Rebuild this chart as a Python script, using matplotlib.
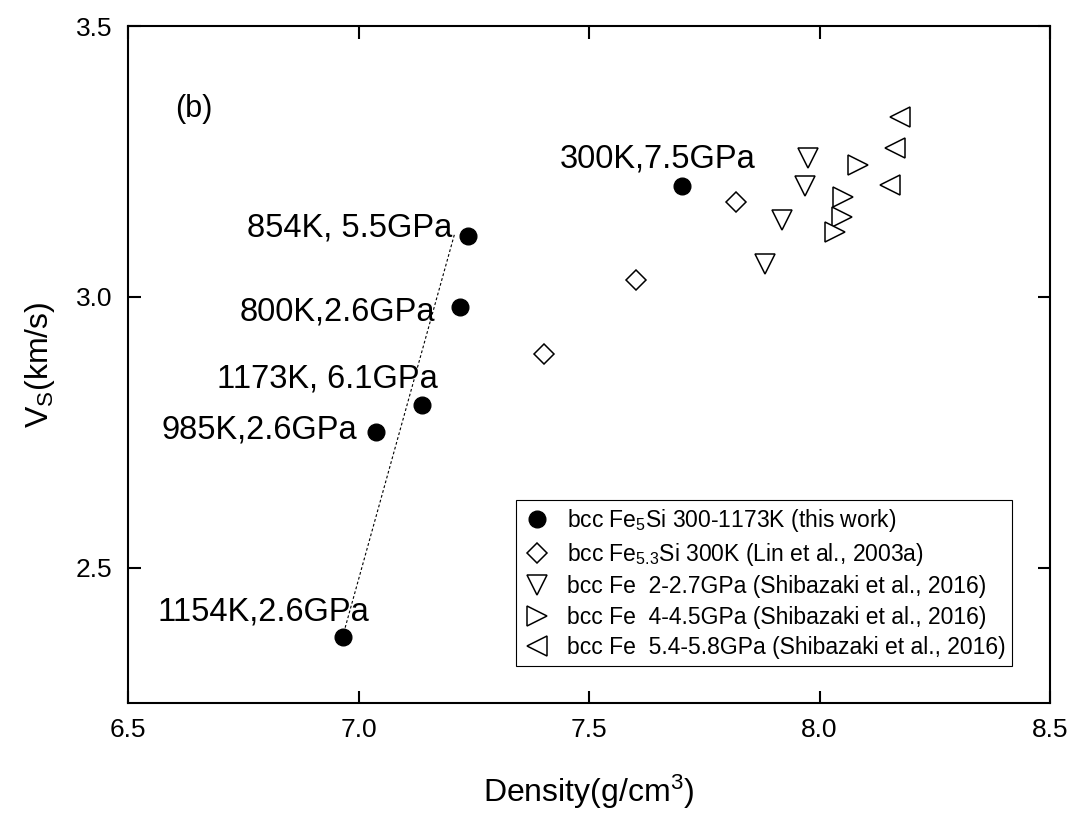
import numpy as np
import matplotlib
matplotlib.use("Agg")
import matplotlib.pyplot as plt

plt.rcParams['font.family'] = ['Liberation Sans', 'DejaVu Sans']
plt.rcParams['mathtext.fontset'] = 'custom'
plt.rcParams['mathtext.rm'] = 'Liberation Sans'
plt.rcParams['mathtext.it'] = 'Liberation Sans:italic'
plt.rcParams['mathtext.default'] = 'regular'

# this work: bcc Fe5Si
fe5si_rho = [7.702, 7.238, 7.220, 7.138, 7.038, 6.966]
fe5si_vs = [3.205, 3.113, 2.982, 2.800, 2.751, 2.371]
fe5si_labels = ['300K,7.5GPa', '854K, 5.5GPa', '800K,2.6GPa',
                '1173K, 6.1GPa', '985K,2.6GPa', '1154K,2.6GPa']

# Lin et al. 2003a
lin_rho = [7.819, 7.602, 7.402]
lin_vs = [3.175, 3.031, 2.895]

# Shibazaki et al. 2016
shib_low_rho = [7.976, 7.969, 7.918, 7.882]
shib_low_vs = [3.256, 3.204, 3.141, 3.060]
shib_mid_rho = [8.083, 8.052, 8.048, 8.034]
shib_mid_vs = [3.243, 3.184, 3.147, 3.119]
shib_high_rho = [8.175, 8.164, 8.153]
shib_high_vs = [3.332, 3.274, 3.207]

# dashed guide line
fit_rho = [6.971, 7.209]
fit_vs = [2.389, 3.118]

# label anchor points (right edge, baseline)
label_x = [7.862, 7.203, 7.166, 7.172, 6.997, 7.023]
label_y = [3.238, 3.111, 2.956, 2.832, 2.738, 2.402]

fig = plt.figure(figsize=(10.71, 8.16), dpi=100)
ax = fig.add_axes([128 / 1071, 1 - 703 / 816, 922 / 1071, 677 / 816])

ax.plot(fit_rho, fit_vs, color='black', lw=0.8, ls=(0, (2.5, 2)), zorder=1)

ax.plot(fe5si_rho, fe5si_vs, 'o', color='black', ms=12, ls='none',
        label='bcc Fe$_5$Si 300-1173K (this work)', zorder=3)
ax.plot(lin_rho, lin_vs, 'D', mfc='white', mec='black', mew=1.1, ms=10, ls='none',
        label='bcc Fe$_{5.3}$Si 300K (Lin et al., 2003a)')
ax.plot(shib_low_rho, shib_low_vs, 'v', mfc='white', mec='black', mew=1.1, ms=14, ls='none',
        label='bcc Fe  2-2.7GPa (Shibazaki et al., 2016)')
ax.plot(shib_mid_rho, shib_mid_vs, '>', mfc='white', mec='black', mew=1.1, ms=14, ls='none',
        label='bcc Fe  4-4.5GPa (Shibazaki et al., 2016)')
ax.plot(shib_high_rho, shib_high_vs, '<', mfc='white', mec='black', mew=1.1, ms=14, ls='none',
        label='bcc Fe  5.4-5.8GPa (Shibazaki et al., 2016)')

for txt, lx, ly in zip(fe5si_labels, label_x, label_y):
    ax.text(lx, ly, txt, ha='right', va='baseline', fontsize=23.5)

ax.text(6.602, 3.332, '(b)', ha='left', va='baseline', fontsize=22)

ax.set_xlim(6.5, 8.5)
ax.set_ylim(2.25, 3.5)
ax.set_xticks([6.5, 7.0, 7.5, 8.0, 8.5])
ax.set_yticks([2.5, 3.0, 3.5])
ax.set_xticklabels(['6.5', '7.0', '7.5', '8.0', '8.5'])
ax.set_yticklabels(['2.5', '3.0', '3.5'])
ax.tick_params(direction='in', length=9, width=1.5, labelsize=19, pad=11,
               top=True, right=True)
for sp in ax.spines.values():
    sp.set_linewidth(1.5)

ax.set_xlabel('Density(g/cm$^3$)', fontsize=23, labelpad=22)
ax.set_ylabel('V$_S$(km/s)', fontsize=23, labelpad=14)

leg = ax.legend(loc='lower right', bbox_to_anchor=(0.959, 0.055), fontsize=16.5,
                frameon=True, fancybox=False, edgecolor='black', framealpha=1,
                handletextpad=0.7, labelspacing=0.32, borderpad=0.3,
                handlelength=1.2, borderaxespad=0)
leg.get_frame().set_linewidth(0.8)

fig.savefig('out.png', dpi=100)
